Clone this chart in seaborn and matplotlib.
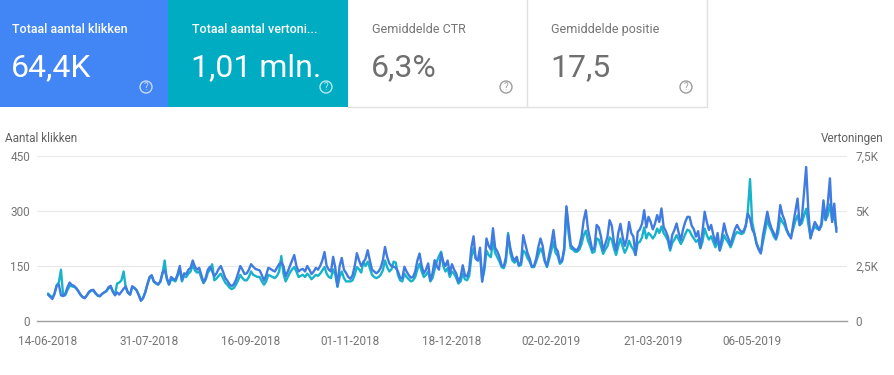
import matplotlib
matplotlib.use("Agg")
import matplotlib.pyplot as plt
import matplotlib.patches as mpatches
import matplotlib.dates as mdates
import pandas as pd
import seaborn as sns

# ---------------- data ----------------
start_date = "2018-06-14"

clicks = [
    72, 66, 60, 74, 96, 100, 70,
    68, 75, 92, 105, 98, 96, 90,
    82, 72, 66, 62, 70, 80, 84,
    85, 76, 70, 68, 74, 78, 82,
    92, 96, 80, 70, 78, 72, 80,
    88, 94, 78, 72, 95, 90, 84,
    70, 55, 62, 78, 100, 120, 125,
    108, 104, 100, 108, 132, 138, 118,
    100, 120, 115, 112, 128, 150, 112,
    130, 128, 140, 145, 165, 148, 140,
    145, 125, 105, 118, 140, 148, 135,
    122, 130, 142, 150, 135, 118, 110,
    100, 95, 100, 112, 130, 150, 140,
    128, 130, 140, 155, 148, 142, 140,
    138, 125, 110, 125, 145, 142, 138,
    135, 145, 155, 160, 150, 122, 135,
    150, 165, 180, 150, 135, 140, 142,
    135, 150, 140, 128, 135, 145, 140,
    150, 165, 188, 150, 140, 135, 175,
    145, 95, 150, 172, 140, 131, 120,
    115, 125, 150, 185, 165, 150, 160,
    170, 193, 165, 140, 135, 130, 135,
    145, 165, 202, 175, 157, 150, 148,
    145, 135, 118, 116, 148, 135, 125,
    118, 120, 135, 165, 184, 150, 130,
    140, 157, 111, 130, 166, 150, 140,
    185, 161, 150, 165, 130, 155, 140,
    130, 107, 120, 152, 125, 121, 140,
    200, 231, 170, 165, 200, 107, 150,
    225, 205, 195, 253, 200, 190, 175,
    152, 148, 175, 234, 200, 175, 165,
    175, 152, 160, 234, 210, 185, 170,
    148, 150, 170, 202, 225, 205, 165,
    150, 180, 210, 248, 200, 190, 161,
    165, 200, 313, 260, 207, 200, 195,
    193, 205, 230, 275, 302, 250, 221,
    193, 200, 262, 255, 230, 193, 210,
    230, 275, 260, 215, 193, 240, 265,
    230, 205, 225, 270, 240, 230, 180,
    243, 250, 265, 302, 255, 284, 270,
    250, 265, 289, 270, 307, 257, 245,
    230, 198, 235, 248, 266, 240, 221,
    250, 270, 284, 284, 260, 250, 230,
    245, 200, 243, 298, 270, 248, 262,
    235, 212, 240, 193, 230, 266, 240,
    225, 207, 230, 250, 262, 250, 243,
    245, 260, 293, 280, 250, 238, 210,
    195, 184, 234, 265, 298, 270, 252,
    240, 225, 260, 316, 290, 275, 250,
    235, 225, 265, 300, 334, 262, 280,
    350, 420, 300, 225, 250, 270, 260,
    248, 265, 329, 275, 320, 389, 270,
    320, 243,
]

impressions = [
    1250, 1150, 1050, 1250, 1620, 1750, 2330,
    1150, 1170, 1400, 1600, 1580, 1550, 1500,
    1350, 1200, 1080, 1050, 1170, 1300, 1380,
    1380, 1250, 1150, 1120, 1230, 1300, 1350,
    1480, 1550, 1350, 1200, 1700, 1750, 1850,
    2250, 1500, 1280, 1200, 1550, 1500, 1400,
    1200, 950, 1050, 1300, 1650, 1950, 2050,
    1780, 1700, 1650, 1780, 2150, 2750, 1900,
    1650, 1900, 1850, 1800, 2050, 2350, 1800,
    2050, 2000, 2150, 2250, 2550, 2300, 2200,
    2250, 1950, 1720, 1880, 2200, 2350, 2580,
    1850, 1930, 2050, 2150, 1950, 1750, 1650,
    1520, 1450, 1500, 1650, 1850, 2100, 1950,
    1850, 1850, 2000, 2250, 2100, 2050, 2000,
    2000, 1800, 1650, 1800, 2100, 2050, 2000,
    1950, 2050, 2250, 2950, 2150, 1800, 2000,
    2200, 2350, 2450, 2250, 2000, 2050, 2100,
    2000, 2150, 2050, 1900, 2000, 2100, 2050,
    2150, 2300, 2450, 2150, 2000, 1950, 2350,
    2100, 1550, 2000, 2250, 1950, 1800, 1800,
    1800, 1850, 2100, 2450, 2350, 2200, 2700,
    2500, 2700, 2400, 2100, 2000, 1950, 2000,
    2100, 2300, 2750, 2450, 2250, 2350, 2700,
    2650, 2100, 1850, 1800, 2150, 2000, 1900,
    1800, 1850, 2000, 2350, 2600, 2250, 2000,
    2100, 2250, 1800, 1950, 2350, 2700, 2950,
    3150, 2500, 2250, 2400, 2000, 2250, 2150,
    1950, 1700, 1800, 2150, 1900, 1850, 2050,
    2900, 3300, 2850, 2750, 3000, 1850, 2300,
    3200, 3000, 2900, 3600, 3100, 2900, 2700,
    2450, 2400, 2700, 4000, 3100, 2750, 2650,
    2800, 2500, 2550, 3200, 3100, 2850, 2700,
    2450, 2450, 2700, 3000, 3300, 3100, 2700,
    2450, 2800, 3200, 3600, 3100, 2950, 2600,
    2700, 3200, 5150, 4000, 3300, 3250, 3150,
    3150, 3250, 3500, 3900, 4100, 3650, 3400,
    3100, 3150, 3750, 3700, 3400, 3050, 3250,
    3400, 3800, 3700, 3300, 3000, 3400, 3750,
    3400, 3100, 3300, 3650, 3400, 3250, 3000,
    3550, 3600, 3800, 4250, 3750, 4000, 3900,
    3750, 3900, 4200, 4000, 4300, 4000, 3850,
    3650, 3200, 3550, 3700, 3900, 3700, 3500,
    3700, 3950, 4150, 4100, 3900, 3750, 3600,
    3700, 3300, 3600, 4200, 3900, 3700, 3850,
    3600, 3350, 3700, 3200, 3500, 3900, 3700,
    3550, 3350, 3600, 3900, 4050, 4000, 3950,
    4000, 4300, 5000, 6450, 4500, 4000, 3550,
    3300, 3100, 3600, 4100, 4600, 4300, 4100,
    3850, 3700, 4000, 4700, 4500, 4350, 4100,
    3900, 3850, 4200, 4550, 4800, 4350, 4450,
    4800, 5100, 4400, 3800, 4100, 4300, 4200,
    4150, 4300, 4900, 4600, 4800, 5300, 4600,
    4700, 4200,
]

tick_dates = ["2018-06-14", "2018-07-31", "2018-09-16", "2018-11-01",
              "2018-12-18", "2019-02-02", "2019-03-21", "2019-05-06"]
clicks_ticks = [0, 150, 300, 450]
clicks_tick_labels = ["0", "150", "300", "450"]
impr_ticks = [0, 2500, 5000, 7500]
impr_tick_labels = ["0", "2,5K", "5K", "7,5K"]

card_titles = ["Totaal aantal klikken", "Totaal aantal vertoni...",
               "Gemiddelde CTR", "Gemiddelde positie"]
card_values = ["64,4K", "1,01 mln.", "6,3%", "17,5"]

left_label = "Aantal klikken"
right_label = "Vertoningen"

# ---------------- style ----------------
sns.set_theme(style="white")
plt.rcParams["font.family"] = ["Roboto", "DejaVu Sans"]

BLUE_CARD = "#4285F4"
TEAL_CARD = "#00ACC1"
BLUE_LINE = "#3F7BE0"
TEAL_LINE = "#17B3C9"
GRAY_TXT = "#757575"
GRID = "#E8E8E8"

W, H = 895, 375
fig = plt.figure(figsize=(W / 100, H / 100), dpi=100)
fig.patch.set_facecolor("white")


def fx(x):
    return x / W


def fy(y):
    return 1 - y / H


# ---------------- cards ----------------
card_x = [0, 168, 348, 527]
card_w = [168, 180, 179, 180]
card_bg = [BLUE_CARD, TEAL_CARD, "white", "white"]
card_fg = ["white", "white", "#6F6F6F", "#6F6F6F"]
title_col = ["white", "white", "#757575", "#757575"]
text_x = [12, 192, 372, 551]
card_h = 107

for i in range(4):
    rect = mpatches.Rectangle((fx(card_x[i]), fy(card_h)), card_w[i] / W, card_h / H,
                              transform=fig.transFigure, facecolor=card_bg[i],
                              edgecolor="none", zorder=0)
    fig.patches.append(rect)
    fig.text(fx(text_x[i]), fy(33), card_titles[i],
             color=title_col[i], fontsize=9, va="baseline", ha="left",
             fontweight="medium" if i < 2 else "normal")
    fig.text(fx(text_x[i] - 1), fy(76), card_values[i],
             color=card_fg[i], fontsize=23, va="baseline", ha="left")

icon_x = [146, 326, 506, 686]
icon_col = ["#C6D9FB", "#B3E8EF", "#9E9E9E", "#9E9E9E"]
for i in range(4):
    fig.patches.append(mpatches.Ellipse((fx(icon_x[i]), fy(87)), 12 / W, 12 / H,
                                        transform=fig.transFigure, facecolor="none",
                                        edgecolor=icon_col[i], linewidth=1.0))
    fig.text(fx(icon_x[i]), fy(87.5), "?", color=icon_col[i], fontsize=7,
             ha="center", va="center")

# borders around white cards
fig.add_artist(plt.Line2D([fx(348), fx(707)], [fy(107), fy(107)], transform=fig.transFigure,
                          color="#E0E0E0", lw=1))
fig.add_artist(plt.Line2D([fx(527), fx(527)], [fy(0), fy(107)], transform=fig.transFigure,
                          color="#E0E0E0", lw=1))
fig.add_artist(plt.Line2D([fx(707), fx(707)], [fy(0), fy(107)], transform=fig.transFigure,
                          color="#E0E0E0", lw=1))

# ---------------- chart ----------------
dates = pd.date_range(start_date, periods=len(clicks), freq="D")
df = pd.DataFrame({"date": dates, "clicks": clicks, "impressions": impressions})

ax_left, ax_right, ax_top, ax_bot = 37, 847, 156, 321
ax = fig.add_axes([fx(ax_left), fy(ax_bot), (ax_right - ax_left) / W, (ax_bot - ax_top) / H])
ax2 = ax.twinx()

sns.lineplot(data=df, x="date", y="impressions", ax=ax2, color=TEAL_LINE, linewidth=1.7)
sns.lineplot(data=df, x="date", y="clicks", ax=ax, color=BLUE_LINE, linewidth=1.7)

ax.set_zorder(ax2.get_zorder() + 1)
ax.patch.set_visible(False)

x0 = pd.Timestamp(start_date) - pd.Timedelta(days=5.1)
x1 = pd.Timestamp(start_date) + pd.Timedelta(days=369.9)
ax.set_xlim(x0, x1)
ax.set_ylim(0, 450)
ax2.set_ylim(0, 7500)

ax.set_yticks(clicks_ticks)
ax.set_yticklabels(clicks_tick_labels)
ax2.set_yticks(impr_ticks)
ax2.set_yticklabels(impr_tick_labels)

ax.set_xticks(pd.to_datetime(tick_dates))
ax.xaxis.set_major_formatter(mdates.DateFormatter("%d-%m-%Y"))

ax2.grid(axis="y", color=GRID, linewidth=0.8)
ax2.grid(axis="x", visible=False)
ax.grid(False)

for a in (ax, ax2):
    for s in a.spines.values():
        s.set_visible(False)
    a.set_xlabel("")
    a.set_ylabel("")
ax.spines["bottom"].set_visible(True)
ax.spines["bottom"].set_color("#9E9E9E")
ax.spines["bottom"].set_linewidth(1.0)

ax.tick_params(axis="y", length=0, pad=5, labelsize=8.5, labelcolor=GRAY_TXT)
ax2.tick_params(axis="y", length=0, pad=6, labelsize=8.5, labelcolor=GRAY_TXT)
ax.tick_params(axis="x", length=0, pad=10, labelsize=8.5, labelcolor=GRAY_TXT)

fig.text(fx(5), fy(142), left_label, color="#616161", fontsize=8.5, ha="left", va="baseline")
fig.text(fx(883), fy(142), right_label, color="#616161", fontsize=8.5, ha="right", va="baseline")

fig.savefig("out.png", dpi=100, facecolor="white")
